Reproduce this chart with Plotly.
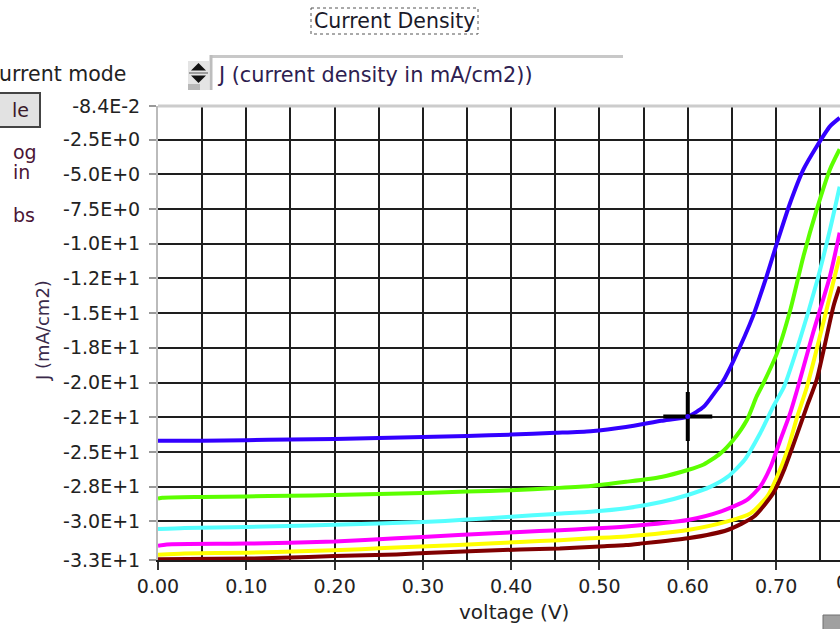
import plotly.graph_objects as go

# ---------------- data ----------------
blue_v = [0, 0.05, 0.10, 0.15, 0.20, 0.25, 0.30, 0.35, 0.40, 0.45, 0.49, 0.53, 0.57, 0.60, 0.618, 0.632, 0.640, 0.652, 0.674, 0.689, 0.701, 0.716, 0.731, 0.746, 0.761, 0.772]
blue_j = [-24.2, -24.2, -24.15, -24.1, -24.06, -24.0, -23.92, -23.85, -23.75, -23.62, -23.5, -23.2, -22.75, -22.45, -21.75, -20.6, -19.9, -18.4, -15.2, -12.4, -9.95, -7.05, -4.65, -3.0, -1.55, -0.94]

green_v = [0, 0.005, 0.05, 0.10, 0.15, 0.20, 0.25, 0.30, 0.35, 0.40, 0.45, 0.49, 0.53, 0.57, 0.60, 0.618, 0.637, 0.652, 0.667, 0.678, 0.686, 0.701, 0.716, 0.731, 0.746, 0.761, 0.772]
green_j = [-28.36, -28.3, -28.24, -28.2, -28.15, -28.1, -28.02, -27.95, -27.85, -27.75, -27.6, -27.45, -27.15, -26.8, -26.3, -25.9, -25.1, -24.1, -22.7, -21.0, -20.0, -17.9, -14.8, -10.9, -7.55, -4.65, -3.2]

cyan_v = [0, 0.03, 0.10, 0.17, 0.25, 0.30, 0.35, 0.40, 0.45, 0.49, 0.53, 0.57, 0.60, 0.626, 0.645, 0.664, 0.682, 0.697, 0.709, 0.727, 0.746, 0.761, 0.772]
cyan_j = [-30.55, -30.47, -30.4, -30.3, -30.15, -30.05, -29.87, -29.66, -29.46, -29.3, -29.05, -28.6, -28.1, -27.5, -26.8, -25.6, -23.65, -21.7, -20.3, -16.9, -12.8, -9.0, -5.9]

magenta_v = [0, 0.01, 0.10, 0.20, 0.27, 0.34, 0.41, 0.455, 0.49, 0.53, 0.60, 0.637, 0.667, 0.682, 0.694, 0.705, 0.716, 0.724, 0.742, 0.761, 0.772]
magenta_j = [-31.75, -31.66, -31.6, -31.45, -31.22, -30.98, -30.76, -30.63, -30.52, -30.36, -29.9, -29.3, -28.45, -27.5, -26.05, -24.1, -22.2, -20.5, -16.4, -12.35, -9.2]

yellow_v = [0, 0.03, 0.10, 0.17, 0.23, 0.27, 0.34, 0.41, 0.455, 0.49, 0.53, 0.60, 0.645, 0.671, 0.690, 0.701, 0.713, 0.724, 0.735, 0.757, 0.772]
yellow_j = [-32.4, -32.32, -32.25, -32.14, -32.0, -31.88, -31.7, -31.48, -31.35, -31.22, -31.08, -30.62, -30.0, -29.42, -28.2, -26.8, -24.85, -22.45, -20.3, -14.8, -10.9]

maroon_v = [0, 0.10, 0.14, 0.20, 0.27, 0.31, 0.41, 0.455, 0.50, 0.53, 0.546, 0.60, 0.645, 0.675, 0.697, 0.709, 0.720, 0.735, 0.746, 0.765, 0.772]
maroon_j = [-32.73, -32.68, -32.62, -32.5, -32.38, -32.26, -32.02, -31.95, -31.8, -31.7, -31.6, -31.22, -30.62, -29.65, -27.95, -26.3, -24.4, -21.7, -19.8, -14.5, -13.1]

series_names = ["blue", "green", "cyan", "magenta", "yellow", "maroon"]
series_colors = ["#3300ff", "#5cff00", "#55ffff", "#ff00ff", "#ffff00", "#800000"]

y_tickvals = [-0.084, -2.5, -5.0, -7.5, -10.0, -12.5, -15.0, -17.5, -20.0, -22.5, -25.0, -27.5, -30.0, -32.78]
y_ticktext = ["-8.4E-2", "-2.5E+0", "-5.0E+0", "-7.5E+0", "-1.0E+1", "-1.2E+1", "-1.5E+1", "-1.8E+1",
              "-2.0E+1", "-2.2E+1", "-2.5E+1", "-2.8E+1", "-3.0E+1", "-3.3E+1"]
x_tickvals = [0.0, 0.1, 0.2, 0.3, 0.4, 0.5, 0.6, 0.7]
x_ticktext = ["0.00", "0.10", "0.20", "0.30", "0.40", "0.50", "0.60", "0.70"]
x_range = [0, 0.7724]
y_range = [-32.78, -0.084]

cursor_v = [0.60]
cursor_j = [-22.45]

# ---------------- figure ----------------
W, H = 840, 629
ML, MT, MB = 158, 106, 69
PW, PH = W - ML, H - MT - MB

def xp(px):
    return (px - ML) / PW

def yp(py):
    return (H - MB - py) / PH

FONT = "DejaVu Sans"
fig = go.Figure()

data = [(blue_v, blue_j), (green_v, green_j), (cyan_v, cyan_j),
        (magenta_v, magenta_j), (yellow_v, yellow_j), (maroon_v, maroon_j)]
for (v, j), name, col in zip(data, series_names, series_colors):
    fig.add_trace(go.Scatter(x=v, y=j, mode="lines", name=name,
                             line=dict(color=col, width=4, shape="spline", smoothing=0.6),
                             showlegend=False, hoverinfo="skip"))

fig.add_trace(go.Scatter(x=cursor_v, y=cursor_j, mode="markers", showlegend=False, hoverinfo="skip",
                         marker=dict(symbol="cross-thin", size=35,
                                     line=dict(color="black", width=4))))
fig.add_trace(go.Scatter(x=cursor_v, y=cursor_j, mode="markers", showlegend=False, hoverinfo="skip",
                         marker=dict(symbol="circle", size=5, color="#3300ff")))

fig.update_layout(
    width=W, height=H,
    margin=dict(l=ML, r=0, t=MT, b=MB),
    paper_bgcolor="white", plot_bgcolor="white",
    font=dict(family=FONT, size=19, color="#222"),
)

fig.update_xaxes(
    range=x_range, tickvals=x_tickvals, ticktext=x_ticktext,
    showgrid=True, gridcolor="#1e1e1e", gridwidth=2,
    ticks="outside", ticklen=8, tickwidth=2, tickcolor="#333",
    showline=True, linecolor="#1e1e1e", linewidth=2, zeroline=False,
    tickfont=dict(family=FONT, size=19, color="#222"),
    minor=dict(dtick=0.05, tick0=0, showgrid=True, gridcolor="#1e1e1e", gridwidth=2, ticks=""),
)
fig.update_yaxes(
    range=y_range, tickvals=y_tickvals, ticktext=y_ticktext,
    showgrid=True, gridcolor="#1e1e1e", gridwidth=2,
    ticks="outside", ticklen=7, tickwidth=2, tickcolor="#999",
    showline=True, linecolor="#bbbbbb", linewidth=2, zeroline=False,
    tickfont=dict(family=FONT, size=19, color="#222"),
    ticklabelstandoff=5,
)

shapes = []
shapes.append(dict(type="line", xref="paper", yref="paper", x0=0, x1=1, y0=1, y1=1,
                   line=dict(color="#cccccc", width=3), layer="above"))
shapes.append(dict(type="rect", xref="paper", yref="paper",
                   x0=xp(311), x1=xp(478), y0=yp(8), y1=yp(34),
                   line=dict(color="#555", width=1, dash="dot")))
shapes.append(dict(type="line", xref="paper", yref="paper", x0=xp(210), x1=xp(623), y0=yp(56.5), y1=yp(56.5),
                   line=dict(color="#c8c8c8", width=3)))
shapes.append(dict(type="line", xref="paper", yref="paper", x0=xp(211), x1=xp(211), y0=yp(55), y1=yp(90),
                   line=dict(color="#bdbdbd", width=3)))
shapes.append(dict(type="rect", xref="paper", yref="paper", x0=xp(188), x1=xp(209), y0=yp(61), y1=yp(90),
                   fillcolor="#e4e4e4", line=dict(width=0)))
shapes.append(dict(type="rect", xref="paper", yref="paper", x0=xp(188), x1=xp(200), y0=yp(84), y1=yp(90),
                   fillcolor="#b8b8b8", line=dict(width=0)))
shapes.append(dict(type="path", xref="paper", yref="paper",
                   path=f"M {xp(191)} {yp(70.5)} L {xp(206)} {yp(70.5)} L {xp(198.5)} {yp(63)} Z",
                   fillcolor="#111", line=dict(width=0)))
shapes.append(dict(type="path", xref="paper", yref="paper",
                   path=f"M {xp(191)} {yp(75.5)} L {xp(206)} {yp(75.5)} L {xp(198.5)} {yp(83)} Z",
                   fillcolor="#111", line=dict(width=0)))
shapes.append(dict(type="line", xref="paper", yref="paper", x0=xp(189), x1=xp(208), y0=yp(73), y1=yp(73),
                   line=dict(color="#555", width=1)))
shapes.append(dict(type="rect", xref="paper", yref="paper", x0=xp(-3), x1=xp(40), y0=yp(93), y1=yp(127),
                   fillcolor="#e2e2e2", line=dict(color="#444", width=2)))
shapes.append(dict(type="rect", xref="paper", yref="paper", x0=xp(823), x1=xp(845), y0=yp(615), y1=yp(633),
                   fillcolor="#a0a0a0", line=dict(color="#707070", width=1)))
fig.update_layout(shapes=shapes)

ann = []
def add_text(text, x, y, xanchor="left", size=19, color="#222", angle=0):
    ann.append(dict(text=text, xref="paper", yref="paper", x=xp(x), y=yp(y),
                    xanchor=xanchor, yanchor="middle", showarrow=False, textangle=angle,
                    font=dict(family=FONT, size=size, color=color)))

add_text("Current Density", 394, 21, xanchor="center", size=20.5, color="#1a1a2a")
add_text("urrent mode", -3, 74, size=20.5, color="#222")
add_text("J (current density in mA/cm2))", 215, 75, size=20.8, color="#2d2050")
add_text("le", 10, 110, size=19, color="#3a1a2a")
add_text("og", 11, 152, size=19, color="#4b1535")
add_text("in", 11, 172, size=19, color="#4b1535")
add_text("bs", 11, 215, size=19, color="#4b1535")
add_text("J (mA/cm2)", 42, 331, xanchor="center", size=18, color="#3a2a4a", angle=-90)
add_text("voltage (V)", 514, 612, xanchor="center", size=20, color="#222")
add_text("0.80", 857, 582, xanchor="center", size=19, color="#222")
fig.update_layout(annotations=ann)

fig.write_html("out.html", config={"displayModeBar": False},
               post_script="document.body.style.margin='0';document.body.style.overflow='hidden';")
